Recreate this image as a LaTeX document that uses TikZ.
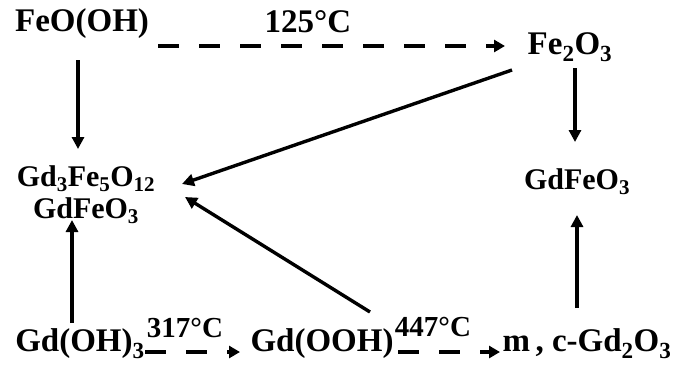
\documentclass[tikz,border=0pt]{standalone}
\usepackage{fontspec}
\setmainfont{Liberation Serif}
\usetikzlibrary{arrows.meta,calc}

\begin{document}
\begin{tikzpicture}[x=1pt,y=-1pt,
  chem/.style={font=\fontsize{33}{36}\selectfont\bfseries,inner sep=0pt},
  midchem/.style={font=\fontsize{30}{32}\selectfont\bfseries,inner sep=0pt},
  temp/.style={font=\fontsize{33}{36}\selectfont\bfseries,inner sep=0pt},
  lowtemp/.style={font=\fontsize{29}{32}\selectfont\bfseries,inner sep=0pt},
  solidarr/.style={line width=3.4pt,-{Triangle[length=12pt,width=12pt]}},
  dasharr/.style={line width=4.5pt,dash pattern=on 21pt off 20pt,-{Triangle[length=11pt,width=12pt]}}]

\useasboundingbox (0,0) rectangle (674,365);

% compounds
\node[chem] (feooh) at (82,24) {FeO(OH)};
\node[chem] (fe2o3) at (570,47) {Fe\textsubscript{2}O\textsubscript{3}};
\node[midchem,align=center] (gdfe) at (86,195) {Gd\textsubscript{3}Fe\textsubscript{5}O\textsubscript{12}\\GdFeO\textsubscript{3}};
\node[midchem] (gdfeo3) at (577,182) {GdFeO\textsubscript{3}};
\node[chem] (gdoh) at (80,344) {Gd(OH)\textsubscript{3}};
\node[chem] (gdooh) at (322,344) {Gd(OOH)};
\node[chem] (gd2o3) at (587,344) {m\,, c-Gd\textsubscript{2}O\textsubscript{3}};

% temperatures
\node[temp] (t125) at (308,22) {125°C};
\node[lowtemp] (t317) at (185,328) {317°C};
\node[lowtemp] (t447) at (433,327) {447°C};

% heating steps
\draw[dasharr] ($(feooh)+(76,22)$) -- ($(fe2o3)+(-65,-1)$);
\draw[dasharr] ($(gdoh)+(65,8)$) -- ($(gdooh)+(-82,8)$);
\draw[dasharr] ($(gdooh)+(76,8)$) -- ($(gd2o3)+(-87,8)$);

% reactions
\draw[solidarr] ($(feooh)+(-4,36)$) -- ($(gdfe)+(-8,-46)$);
\draw[solidarr] ($(fe2o3)+(-58,23)$) -- ($(gdfe)+(96,-11)$);
\draw[solidarr] ($(fe2o3)+(5,21)$) -- ($(gdfeo3)+(-2,-40)$);
\draw[solidarr] ($(gdoh)+(-8,-21)$) -- ($(gdfe)+(-14,25)$);
\draw[solidarr] ($(gdooh)+(48,-32)$) -- ($(gdfe)+(99,2)$);
\draw[solidarr] ($(gd2o3)+(-10,-36)$) -- ($(gdfeo3)+(0,33)$);
\end{tikzpicture}
\end{document}
